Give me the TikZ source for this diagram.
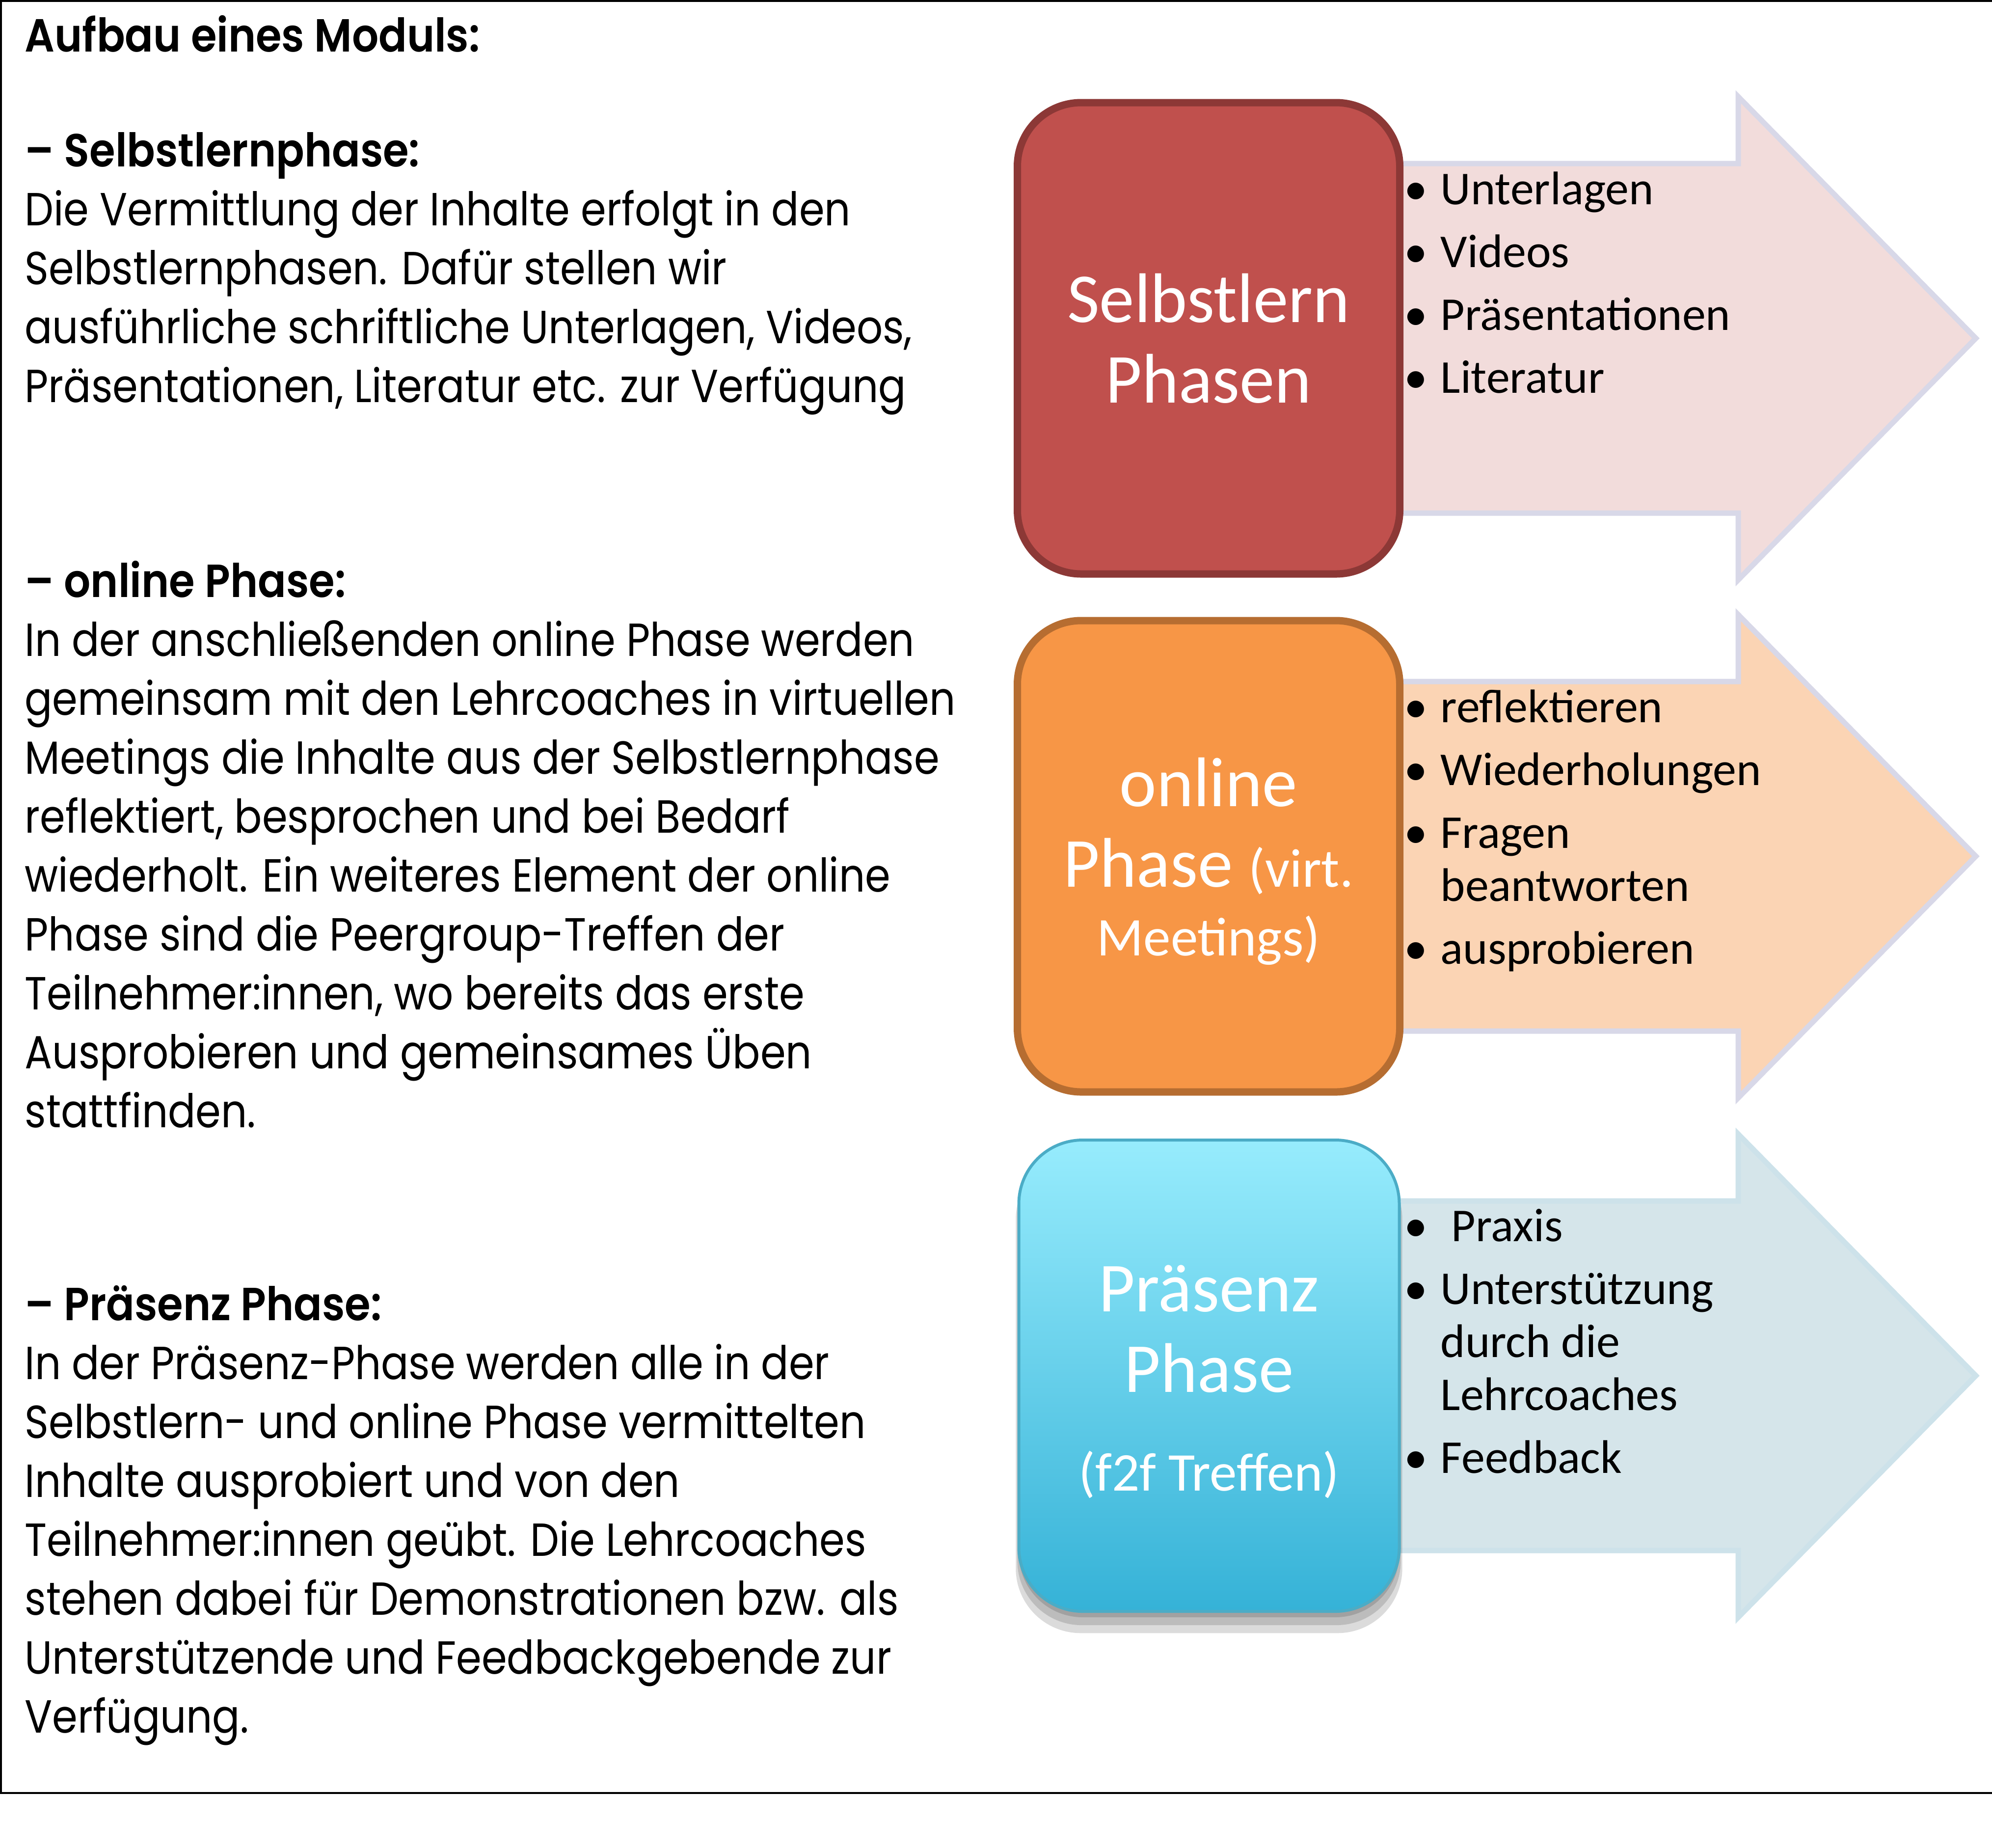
\documentclass[tikz,border=0pt]{standalone}
\usepackage{fontspec}
\setmainfont{Carlito}
\newfontfamily\futfont[FakeStretch=0.88, BoldFont={Poppins SemiBold}, BoldFeatures={FakeStretch=0.9}]{Poppins}
\usetikzlibrary{positioning, shadows}
\definecolor{cred}{HTML}{C0504D}
\definecolor{credline}{HTML}{8C3836}
\definecolor{corange}{HTML}{F79646}
\definecolor{corangeline}{HTML}{B66D31}
\definecolor{cbluetop}{HTML}{97ECFD}
\definecolor{cbluebot}{HTML}{35B2D7}
\definecolor{cblueline}{HTML}{4BACC6}
\definecolor{arrowpink}{HTML}{F2DCDB}
\definecolor{arrowpeach}{HTML}{FBD4B4}
\definecolor{arrowblue}{HTML}{D5E5EA}
\definecolor{arrowline}{HTML}{D8D8E8}
\definecolor{arrowblueline}{HTML}{CDE2EA}
\newcommand{\blt}{\makebox[0.74cm][l]{\textbullet}}
\newcommand{\bltgap}{\makebox[0.74cm]{}}
\newcommand{\smallbox}{\fontsize{31.6}{36}\selectfont}
\tikzset{
  every picture/.style={line join=miter},
  phase/.style={draw=#1, rounded corners=1.3cm, minimum width=7.79cm, minimum height=9.6cm, line width=0.15cm, align=center, text=white, inner sep=0pt, font=\fontsize{40.7}{46.7}\selectfont},
  bullets/.style={anchor=north west, align=left, inner sep=0pt, font=\fontsize{27.3}{30.7}\selectfont},
  bodytext/.style={anchor=north west, align=left, inner sep=0pt, font=\futfont\fontsize{26.9}{34.14}\selectfont},
  flowarrow/.style={fill=#1, line width=0.11cm},
  softshadow/.style 2 args={drop shadow={shadow xshift=0cm, shadow yshift=#1, shadow scale=#2, opacity=0.14, fill=black}},
}
\begin{document}
\begin{tikzpicture}
  \useasboundingbox (0,0) rectangle (40.58,-37.63);
  % frame (open to the right)
  \draw[line width=0.04cm] (40.58,-0.02) -- (0.02,-0.02) -- (0.02,-36.52) -- (40.58,-36.52);

  % left column
  \node[bodytext] (title) at (0.50,-0.25) {\rule{0pt}{0.8cm}\textbf{Aufbau eines Moduls:}};
  \node[bodytext] (selbsttext) at (0.50,-2.59) {\rule{0pt}{0.8cm}\textbf{– Selbstlernphase:}\\
    Die Vermittlung der Inhalte erfolgt in den\\
    Selbstlernphasen. Dafür stellen wir\\
    ausführliche schriftliche Unterlagen, Videos,\\
    Präsentationen, Literatur etc. zur Verfügung};
  \node[bodytext] (onlinetext) at (0.50,-11.36) {\rule{0pt}{0.8cm}\textbf{– online Phase:}\\
    In der anschließenden online Phase werden\\
    gemeinsam mit den Lehrcoaches in virtuellen\\
    Meetings die Inhalte aus der Selbstlernphase\\
    reflektiert, besprochen und bei Bedarf\\
    wiederholt. Ein weiteres Element der online\\
    Phase sind die Peergroup-Treffen der\\
    Teilnehmer:innen, wo bereits das erste\\
    Ausprobieren und gemeinsames Üben\\
    stattfinden.};
  \node[bodytext] (praesenztext) at (0.50,-26.09) {\rule{0pt}{0.8cm}\textbf{– Präsenz Phase:}\\
    In der Präsenz-Phase werden alle in der\\
    Selbstlern- und online Phase vermittelten\\
    Inhalte ausprobiert und von den\\
    Teilnehmer:innen geübt. Die Lehrcoaches\\
    stehen dabei für Demonstrationen bzw. als\\
    Unterstützende und Feedbackgebende zur\\
    Verfügung.};

  % arrows behind the boxes
  \foreach \yc/\fc/\dc in {6.89/arrowpink/arrowline, 17.44/arrowpeach/arrowline, 28.02/arrowblue/arrowblueline}
    \draw[flowarrow=\fc, draw=\dc] (27,{3.56-\yc}) -- (35.41,{3.56-\yc}) -- (35.41,{4.92-\yc}) -- (40.25,{-\yc})
      -- (35.41,{-4.92-\yc}) -- (35.41,{-3.56-\yc}) -- (27,{-3.56-\yc}) -- cycle;

  % phase boxes
  \node[phase=credline, fill=cred] (selbst) at (24.62,-6.89) {Selbstlern\\Phasen};
  \node[phase=corangeline, fill=corange] (online) at (24.62,-17.44) {\rule{0pt}{1.2cm}online\\Phase {\smallbox(virt.}\\[-0.25cm]{\smallbox Meetings)}};
  \node[phase=cblueline, line width=0.06cm, minimum width=7.75cm, top color=cbluetop, bottom color=cbluebot,
    softshadow={-0.12cm}{1}, softshadow={-0.24cm}{1.008}, softshadow={-0.36cm}{1.016}] (praesenz) at (24.63,-28.02)
    {\rule{0pt}{1.2cm}Präsenz\\Phase\\[0.37cm]{\smallbox(f2f Treffen)}};

  % bullet lists
  \node[bullets] (selbstlist) at (28.60,-3.36) {\rule{0pt}{0.8cm}\blt Unterlagen\\[0.2cm]
    \blt Videos\\[0.2cm] \blt Präsentationen\\[0.2cm] \blt Literatur};
  \node[bullets] (onlinelist) at (28.60,-13.91) {\rule{0pt}{0.8cm}\blt reflektieren\\[0.2cm]
    \blt Wiederholungen\\[0.2cm] \blt Fragen\\ \bltgap beantworten\\[0.2cm] \blt ausprobieren};
  \node[bullets] (praesenzlist) at (28.60,-24.48) {\rule{0pt}{0.8cm}\blt\ Praxis\\[0.2cm]
    \blt Unterstützung\\ \bltgap durch die\\ \bltgap Lehrcoaches\\[0.2cm] \blt Feedback};
\end{tikzpicture}
\end{document}
